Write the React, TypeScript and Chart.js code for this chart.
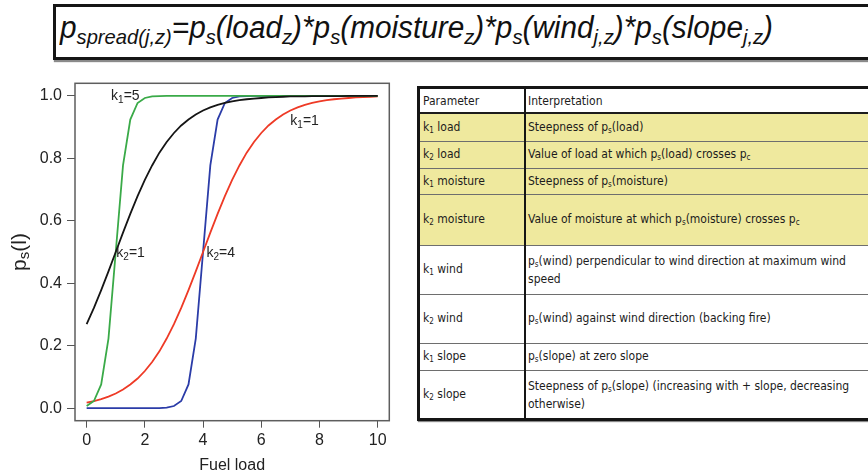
import React, { useEffect, useRef } from 'react';
import { Chart, registerables } from 'chart.js';

Chart.register(...registerables);

// ---- curve data: probability of spread p_s(l) against fuel load ----
const fuelLoad = [
  0, 0.25, 0.5, 0.75, 1, 1.25, 1.5, 1.75, 2, 2.25,
  2.5, 2.75, 3, 3.25, 3.5, 3.75, 4, 4.25, 4.5, 4.75,
  5, 5.25, 5.5, 5.75, 6, 6.25, 6.5, 6.75, 7, 7.25,
  7.5, 7.75, 8, 8.25, 8.5, 8.75, 9, 9.25, 9.5, 9.75, 10,
];

// k1 = 1, k2 = 1
const spreadK1of1K2of1 = [
  0.269, 0.321, 0.378, 0.438, 0.5, 0.562, 0.622, 0.679, 0.731, 0.777,
  0.818, 0.852, 0.881, 0.905, 0.924, 0.94, 0.953, 0.963, 0.971, 0.977,
  0.982, 0.986, 0.989, 0.991, 0.993, 0.995, 0.996, 0.997, 0.998, 0.998,
  0.998, 0.999, 0.999, 0.999, 0.999, 0.999, 1, 1, 1, 1, 1,
];

// k1 = 5, k2 = 1
const spreadK1of5K2of1 = [
  0.007, 0.023, 0.076, 0.223, 0.5, 0.777, 0.924, 0.977, 0.993, 0.998,
  0.999, 1, 1, 1, 1, 1, 1, 1, 1, 1,
  1, 1, 1, 1, 1, 1, 1, 1, 1, 1,
  1, 1, 1, 1, 1, 1, 1, 1, 1, 1, 1,
];

// k1 = 1, k2 = 4
const spreadK1of1K2of4 = [
  0.018, 0.023, 0.029, 0.037, 0.047, 0.06, 0.076, 0.095, 0.119, 0.148,
  0.182, 0.223, 0.269, 0.321, 0.378, 0.438, 0.5, 0.562, 0.622, 0.679,
  0.731, 0.777, 0.818, 0.852, 0.881, 0.905, 0.924, 0.94, 0.953, 0.963,
  0.971, 0.977, 0.982, 0.986, 0.989, 0.991, 0.993, 0.995, 0.996, 0.997, 0.998,
];

// k1 = 5, k2 = 4
const spreadK1of5K2of4 = [
  0, 0, 0, 0, 0, 0, 0, 0, 0, 0,
  0, 0.002, 0.007, 0.023, 0.076, 0.223, 0.5, 0.777, 0.924, 0.977,
  0.993, 0.998, 0.999, 1, 1, 1, 1, 1, 1, 1,
  1, 1, 1, 1, 1, 1, 1, 1, 1, 1, 1,
];

const seriesNames = ['k1=1, k2=1', 'k1=5, k2=1', 'k1=1, k2=4', 'k1=5, k2=4'];
const seriesValues = [spreadK1of1K2of1, spreadK1of5K2of1, spreadK1of1K2of4, spreadK1of5K2of4];
const seriesColors = ['#151515', '#3aaa48', '#ee3a26', '#2b3ca8'];

const xTicks = [0, 2, 4, 6, 8, 10];
const yTicks = [0, 0.2, 0.4, 0.6, 0.8, 1];

// curve annotations: k<sub>=<value>, anchored by their left edge
const noteSubs = ['1', '1', '2', '2'];
const noteValues = ['5', '1', '1', '4'];
const noteX = [0.84, 7.0, 1.02, 4.12];
const noteY = [0.999, 0.92, 0.496, 0.496];

// ---- parameter table ----
const paramSubs = ['1', '2', '1', '2', '1', '2', '1', '2'];
const paramNames = ['load', 'load', 'moisture', 'moisture', 'wind', 'wind', 'slope', 'slope'];
const paramMeanings = [
  'Steepness of p_s(load)',
  'Value of load at which p_s(load) crosses p_c',
  'Steepness of p_s(moisture)',
  'Value of moisture at which p_s(moisture) crosses p_c',
  'p_s(wind) perpendicular to wind direction at maximum wind\nspeed',
  'p_s(wind) against wind direction (backing fire)',
  'p_s(slope) at zero slope',
  'Steepness of p_s(slope) (increasing with + slope, decreasing\notherwise)',
];
const paramHighlighted = [true, true, true, true, false, false, false, false];

const SANS = '"Liberation Sans", Arial, Helvetica, sans-serif';
const TABLE_FONT = '"DejaVu Sans Condensed", "DejaVu Sans", Verdana, sans-serif';
const TEXT = '#222';

const rowHeights = [27, 26, 25, 50, 48, 48, 26, 47];

const overlay = {
  id: 'overlay',
  afterDatasetsDraw(chart: any) {
    const { ctx, chartArea, scales } = chart;
    ctx.save();

    // frame round the plotting region
    ctx.strokeStyle = '#5e5e5e';
    ctx.lineWidth = 1.5;
    ctx.strokeRect(chartArea.left, chartArea.top, chartArea.right - chartArea.left, chartArea.bottom - chartArea.top);

    // curve annotations
    ctx.fillStyle = TEXT;
    ctx.textBaseline = 'middle';
    ctx.textAlign = 'left';
    noteSubs.forEach((sub, i) => {
      let x = scales.x.getPixelForValue(noteX[i]);
      const y = scales.y.getPixelForValue(noteY[i]);
      ctx.font = `14px ${SANS}`;
      ctx.fillText('k', x, y);
      x += ctx.measureText('k').width;
      ctx.font = `10px ${SANS}`;
      ctx.fillText(sub, x, y + 4);
      x += ctx.measureText(sub).width;
      ctx.font = `14px ${SANS}`;
      ctx.fillText('=' + noteValues[i], x, y);
    });

    // rotated y-axis title p_s(l)
    const cy = (chartArea.top + chartArea.bottom) / 2;
    ctx.translate(chartArea.left - 55, cy);
    ctx.rotate(-Math.PI / 2);
    const big = `21px ${SANS}`;
    const small = `15px ${SANS}`;
    ctx.font = big;
    const wp = ctx.measureText('p').width;
    const wl = ctx.measureText('(l)').width;
    ctx.font = small;
    const ws = ctx.measureText('s').width;
    let x = -(wp + ws + wl) / 2;
    ctx.font = big;
    ctx.fillText('p', x, 0);
    x += wp;
    ctx.font = small;
    ctx.fillText('s', x, 5);
    x += ws;
    ctx.font = big;
    ctx.fillText('(l)', x, 0);

    ctx.restore();
  },
};

function SpreadChart() {
  const ref = useRef<HTMLCanvasElement>(null);
  useEffect(() => {
    const chart = new Chart(ref.current as HTMLCanvasElement, {
      type: 'line',
      data: {
        datasets: seriesValues.map((vals, i) => ({
          label: seriesNames[i],
          data: fuelLoad.map((x, j) => ({ x, y: vals[j] })),
          borderColor: seriesColors[i],
          borderWidth: 1.8,
          pointRadius: 0,
          tension: 0,
          fill: false,
        })),
      },
      options: {
        animation: false,
        responsive: false,
        devicePixelRatio: 1,
        layout: { padding: { top: 18.3, right: 20.7, left: 0, bottom: 0 } },
        plugins: { legend: { display: false }, tooltip: { enabled: false } },
        scales: {
          x: {
            type: 'linear',
            min: -0.4,
            max: 10.4,
            afterBuildTicks: (s: any) => { s.ticks = xTicks.map((v) => ({ value: v })); },
            afterFit: (s: any) => { s.height = 54.3; },
            grid: { drawOnChartArea: false, drawTicks: true, tickLength: 7, color: '#555', lineWidth: 1 },
            border: { display: false },
            ticks: { color: TEXT, font: { size: 16, family: SANS }, padding: 3, maxRotation: 0, callback: (v: any) => String(v) },
            title: { display: true, text: 'Fuel load', color: TEXT, font: { size: 16, family: SANS }, padding: 0 },
          },
          y: {
            type: 'linear',
            min: -0.04,
            max: 1.04,
            afterBuildTicks: (s: any) => { s.ticks = yTicks.map((v) => ({ value: v })); },
            afterFit: (s: any) => { s.width = 75; },
            grid: { drawOnChartArea: false, drawTicks: true, tickLength: 8, color: '#555', lineWidth: 1 },
            border: { display: false },
            ticks: { color: TEXT, font: { size: 16, family: SANS }, padding: 5, callback: (v: any) => Number(v).toFixed(1) },
          },
        },
      },
      plugins: [overlay],
    } as any);
    return () => chart.destroy();
  }, []);
  return (
    <canvas
      ref={ref}
      width={410}
      height={410}
      style={{ position: 'absolute', left: 0, top: 65, width: 410, height: 410 }}
    />
  );
}

function Rich({ text, subSize }: { text: string; subSize: number }) {
  const parts = text.split(/_(\w)/);
  return (
    <>
      {parts.map((p, i) =>
        i % 2 === 1 ? (
          <sub key={i} style={{ fontSize: subSize, verticalAlign: 'baseline', position: 'relative', top: 2 }}>{p}</sub>
        ) : (
          <React.Fragment key={i}>{p}</React.Fragment>
        ),
      )}
    </>
  );
}

function Formula() {
  const sub = { fontSize: 21, position: 'relative' as const, top: 6, verticalAlign: 'baseline' };
  return (
    <div
      style={{
        position: 'absolute', left: 53, top: 4, width: 840, height: 50,
        border: '3px solid #161616', boxShadow: '1px 2px 1px #8a8a8a', background: '#fff', overflow: 'hidden',
      }}
    >
      <div
        style={{
          position: 'absolute', left: 4, top: 2, fontFamily: SANS, fontStyle: 'italic', fontSize: 31,
          lineHeight: '38px', whiteSpace: 'nowrap', color: '#111', transformOrigin: 'left top', transform: 'scaleX(0.96)',
        }}
      >
        p<span style={sub}>spread(j,z)</span>=p<span style={sub}>s</span>(load<span style={sub}>z</span>)*p<span style={sub}>s</span>(moisture<span style={sub}>z</span>)*p<span style={sub}>s</span>(wind<span style={sub}>j,z</span>)*p<span style={sub}>s</span>(slope<span style={sub}>j,z</span>)
      </div>
    </div>
  );
}

function ParamTable() {
  const left = 417;
  const top = 86;
  const width = 480;
  const colX = 104; // column divider offset inside table
  const headerH = 23;
  const cellText: React.CSSProperties = {
    fontFamily: TABLE_FONT, fontStretch: 'condensed', fontSize: 12, color: '#1c1c1c', lineHeight: '16px', whiteSpace: 'pre-line',
  };
  let y = headerH + 2;
  const rows = paramNames.map((name, i) => {
    const h = rowHeights[i];
    const rowTop = y;
    y += h + 1;
    const last = i === paramNames.length - 1;
    return (
      <div
        key={i}
        style={{
          position: 'absolute', left: 0, top: rowTop, width, height: h,
          background: paramHighlighted[i] ? '#efe99e' : '#fff',
          borderBottom: last ? 'none' : '1px solid #6e6e6e',
        }}
      >
        <div style={{ ...cellText, position: 'absolute', left: 3, top: 0, height: h, display: 'flex', alignItems: 'center' }}>
          <span>k<Rich text={'_' + paramSubs[i]} subSize={8} /> {name}</span>
        </div>
        <div style={{ ...cellText, position: 'absolute', left: colX + 4, top: 0, height: h, display: 'flex', alignItems: 'center' }}>
          <span><Rich text={paramMeanings[i]} subSize={8} /></span>
        </div>
      </div>
    );
  });
  const totalH = y - 1;
  return (
    <div
      style={{
        position: 'absolute', left, top, width, height: totalH,
        borderTop: '3px solid #151515', borderLeft: '3px solid #151515', borderBottom: '3px solid #151515',
        boxShadow: '1px 1px 1px #888', background: '#fff',
      }}
    >
      <div style={{ position: 'absolute', left: 0, top: 0, width, height: headerH, borderBottom: '2px solid #1c1c1c' }}>
        <div style={{ ...cellText, position: 'absolute', left: 3, top: 0, height: headerH, display: 'flex', alignItems: 'center' }}>Parameter</div>
        <div style={{ ...cellText, position: 'absolute', left: colX + 4, top: 0, height: headerH, display: 'flex', alignItems: 'center' }}>Interpretation</div>
      </div>
      {rows}
      <div style={{ position: 'absolute', left: colX, top: 0, width: 2, height: totalH, background: '#151515' }} />
    </div>
  );
}

export default function App() {
  return (
    <div style={{ position: 'fixed', left: 0, top: 0, width: 868, height: 475, background: '#fff', overflow: 'hidden' }}>
      <Formula />
      <SpreadChart />
      <ParamTable />
    </div>
  );
}
